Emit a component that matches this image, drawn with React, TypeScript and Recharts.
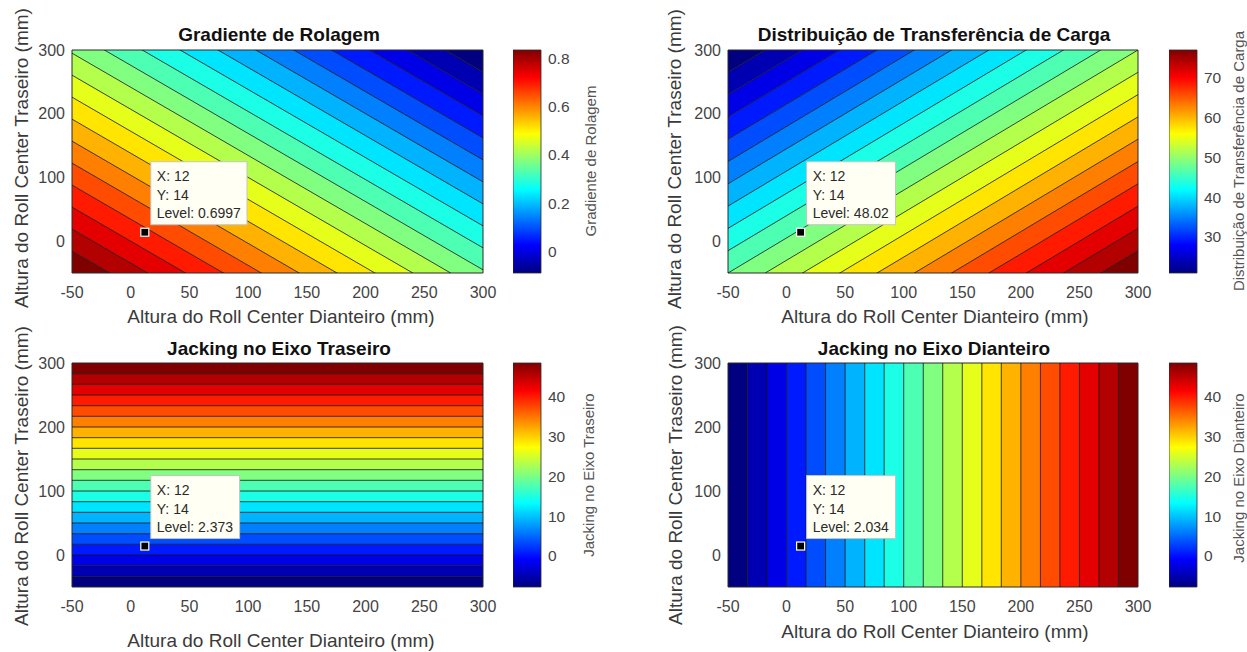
import {
  ComposedChart,
  Area,
  Line,
  XAxis,
  YAxis,
  ReferenceArea,
  ReferenceLine,
  ReferenceDot,
} from 'recharts'

const FONT = '"Liberation Sans", Arial, Helvetica, sans-serif'

// eixos comuns (mm)
const xTicks = [-50, 0, 50, 100, 150, 200, 250, 300]
const yTicks = [0, 100, 200, 300]

// Gradiente de Rolagem: fronteiras das faixas, y em x=-50 e y em x=300
const rolagemYEsq = [-50, -15.5, 19, 53.5, 88, 122.5, 157, 191.5, 226, 260.5, 295, 329.5, 364, 398.5, 433, 467.5, 502, 536.5, 571, 605.5, 640, 674.5]
const rolagemYDir = [-424.5, -390, -355.5, -321, -286.5, -252, -217.5, -183, -148.5, -114, -79.5, -45, -10.5, 24, 58.5, 93, 127.5, 162, 196.5, 231, 265.5, 300]

// Distribuição de Transferência de Carga: fronteiras, y em x=-50 e y em x=300
const cargaYEsq = [300, 265, 230, 195, 160, 125, 90, 55, 20, -15, -50, -85, -120, -155, -190, -225, -260, -295, -330, -365, -400, -435]
const cargaYDir = [685, 650, 615, 580, 545, 510, 475, 440, 405, 370, 335, 300, 265, 230, 195, 160, 125, 90, 55, 20, -15, -50]

// Jacking no eixo traseiro: curvas de nível horizontais (y)
const jackTrasY = [-33.3, -16.7, 0, 16.7, 33.3, 50, 66.7, 83.3, 100, 116.7, 133.3, 150, 166.7, 183.3, 200, 216.7, 233.3, 250, 266.7, 283.3]
// Jacking no eixo dianteiro: curvas de nível verticais (x)
const jackDiantX = [-33.3, -16.7, 0, 16.7, 33.3, 50, 66.7, 83.3, 100, 116.7, 133.3, 150, 166.7, 183.3, 200, 216.7, 233.3, 250, 266.7, 283.3]

// barras de cores
const rolagemCbRange = [-0.087, 0.833]
const rolagemCbTicks = [0, 0.2, 0.4, 0.6, 0.8]
const cargaCbRange = [20.9, 77.0]
const cargaCbTicks = [30, 40, 50, 60, 70]
const jackCbRange = [-7.8, 48.5]
const jackCbTicks = [0, 10, 20, 30, 40]

// data tips
const tipRolagem = { x: 12, y: 14, level: '0.6997' }
const tipCarga = { x: 12, y: 14, level: '48.02' }
const tipJackTras = { x: 12, y: 14, level: '2.373' }
const tipJackDiant = { x: 12, y: 14, level: '2.034' }

const N_FAIXAS = 20

// colormap jet do MATLAB
const jet = (t: number) => {
  const c = (v: number) => Math.round(255 * Math.max(0, Math.min(1, v)))
  return `rgb(${c(1.5 - Math.abs(4 * t - 3))},${c(1.5 - Math.abs(4 * t - 2))},${c(1.5 - Math.abs(4 * t - 1))})`
}

function montaLinhas(esq: number[], dir: number[]) {
  const row = (x: number, ys: number[]) => {
    const r: Record<string, any> = { x }
    ys.forEach((y, i) => {
      r[`l${i}`] = y
      if (i < ys.length - 1) r[`b${i}`] = [y, ys[i + 1]]
    })
    return r
  }
  return [row(-50, esq), row(300, dir)]
}

const tickStyle = { fontSize: 16, fill: '#444', fontFamily: FONT }

function tipShape(tip: { x: number; y: number; level: string }) {
  return (p: any) => {
    const { cx, cy } = p
    const txt = `Level: ${tip.level}`
    const w = 7.4 * txt.length
    const ts = { fontSize: 14, fill: '#2a2a2a', fontFamily: FONT }
    return (
      <g>
        <rect x={cx + 6} y={cy - 70.5} width={w} height={63} fill="#fffff4" stroke="#c4c4c4" />
        <text x={cx + 12} y={cy - 51} {...ts}>X: {tip.x}</text>
        <text x={cx + 12} y={cy - 32.5} {...ts}>Y: {tip.y}</text>
        <text x={cx + 12} y={cy - 14} {...ts}>{txt}</text>
        <rect x={cx - 4} y={cy - 4} width={8} height={8} fill="#000" stroke="#fff" strokeWidth={1.2} />
      </g>
    )
  }
}

interface Caixa {
  L: number
  T: number
  R: number
  B: number
}

const PADL = 60
const PADT = 10
const PADR = 30

function Painel({ box, children }: { box: Caixa; children: any }) {
  return (
    <div style={{ position: 'absolute', left: box.L - PADL, top: box.T - PADT }}>
      {children(box.R - box.L + PADL + PADR, box.B - box.T + PADT + 40)}
    </div>
  )
}

const eixos = [
  <XAxis
    key="x"
    type="number"
    dataKey="x"
    domain={[-50, 300]}
    ticks={xTicks}
    interval={0}
    allowDataOverflow
    tickLine={false}
    axisLine={false}
    tickSize={0}
    tickMargin={14}
    height={30}
    tick={tickStyle}
  />,
  <YAxis
    key="y"
    type="number"
    domain={[-50, 300]}
    ticks={yTicks}
    interval={0}
    allowDataOverflow
    tickLine={false}
    axisLine={false}
    tickSize={0}
    tickMargin={7}
    width={40}
    tick={tickStyle}
  />,
]

const margem = { top: PADT, right: PADR, left: PADL - 40, bottom: 10 }

function Moldura() {
  return (
    <ReferenceArea x1={-50} x2={300} y1={-50} y2={300} fill="none" stroke="#2b2b2b" strokeWidth={1} ifOverflow="visible" />
  )
}

function Diagonal({ box, esq, dir, invert, tip }: { box: Caixa; esq: number[]; dir: number[]; invert: boolean; tip: any }) {
  const data = montaLinhas(esq, dir)
  const faixas = esq.slice(0, -1).map((_, k) => k)
  const linhas = esq.map((_, k) => k).filter((k) => k > 0 && k < esq.length - 1)
  return (
    <Painel box={box}>
      {(w: number, h: number) => (
        <ComposedChart width={w} height={h} data={data} margin={margem}>
          {eixos}
          {faixas.map((k) => (
            <Area
              key={`b${k}`}
              dataKey={`b${k}`}
              type="linear"
              stroke="none"
              fill={jet((invert ? N_FAIXAS - k : k) / N_FAIXAS)}
              fillOpacity={1}
              dot={false}
              activeDot={false}
              isAnimationActive={false}
            />
          ))}
          {linhas.map((k) => (
            <Line
              key={`l${k}`}
              dataKey={`l${k}`}
              type="linear"
              stroke="#111"
              strokeWidth={0.8}
              dot={false}
              activeDot={false}
              isAnimationActive={false}
            />
          ))}
          <Moldura />
          <ReferenceDot x={tip.x} y={tip.y} r={4} shape={tipShape(tip)} ifOverflow="visible" />
        </ComposedChart>
      )}
    </Painel>
  )
}

function Retas({ box, linhas, vertical, tip }: { box: Caixa; linhas: number[]; vertical: boolean; tip: any }) {
  const lim = [-50, ...linhas, 300]
  const data = [{ x: -50 }, { x: 300 }]
  return (
    <Painel box={box}>
      {(w: number, h: number) => (
        <ComposedChart width={w} height={h} data={data} margin={margem}>
          {eixos}
          {lim.slice(0, -1).map((v, k) =>
            vertical ? (
              <ReferenceArea key={`a${k}`} x1={v} x2={lim[k + 1]} y1={-50} y2={300} fill={jet(k / N_FAIXAS)} fillOpacity={1} stroke="none" />
            ) : (
              <ReferenceArea key={`a${k}`} x1={-50} x2={300} y1={v} y2={lim[k + 1]} fill={jet(k / N_FAIXAS)} fillOpacity={1} stroke="none" />
            )
          )}
          {linhas.map((v, k) =>
            vertical ? (
              <ReferenceLine key={`r${k}`} x={v} stroke="#111" strokeWidth={0.8} />
            ) : (
              <ReferenceLine key={`r${k}`} y={v} stroke="#111" strokeWidth={0.8} />
            )
          )}
          <Moldura />
          <ReferenceDot x={tip.x} y={tip.y} r={4} shape={tipShape(tip)} ifOverflow="visible" />
        </ComposedChart>
      )}
    </Painel>
  )
}

function ColorBar({ id, L, R, T, B, range, ticks }: { id: string; L: number; R: number; T: number; B: number; range: number[]; ticks: number[] }) {
  const stops = [0, 0.125, 0.25, 0.375, 0.5, 0.625, 0.75, 0.875, 1]
  return (
    <div style={{ position: 'absolute', left: L, top: T - 10 }}>
      <ComposedChart width={R - L + 50} height={B - T + 20} data={[{ x: 0 }, { x: 1 }]} margin={{ top: 10, bottom: 10, left: 0, right: 0 }}>
        <defs>
          <linearGradient id={id} x1="0" y1="0" x2="0" y2="1">
            {stops.map((s) => (
              <stop key={s} offset={`${s * 100}%`} stopColor={jet(1 - s)} />
            ))}
          </linearGradient>
        </defs>
        <XAxis type="number" dataKey="x" domain={[0, 1]} hide />
        <YAxis
          orientation="right"
          type="number"
          domain={range}
          ticks={ticks}
          interval={0}
          allowDataOverflow
          tickLine={false}
          axisLine={false}
          tickSize={0}
          tickMargin={7}
          width={50}
          tick={{ ...tickStyle, fontSize: 15.5 }}
        />
        <ReferenceArea x1={0} x2={1} y1={range[0]} y2={range[1]} fill={`url(#${id})`} fillOpacity={1} stroke="#2b2b2b" strokeWidth={0.8} />
      </ComposedChart>
    </div>
  )
}

const XLABEL = 'Altura do Roll Center Dianteiro (mm)'
const YLABEL = 'Altura do Roll Center Traseiro (mm)'

function Textos() {
  const tit = { fontSize: 19, fontWeight: 700, fill: '#111', fontFamily: FONT, textAnchor: 'middle' as const, dominantBaseline: 'central' as const }
  const lab = { fontSize: 19, fill: '#3a3a3a', fontFamily: FONT, textAnchor: 'middle' as const, dominantBaseline: 'central' as const }
  const cbl = { fontSize: 15, fill: '#555', fontFamily: FONT, textAnchor: 'middle' as const, dominantBaseline: 'central' as const }
  return (
    <svg width={1247} height={652} style={{ position: 'absolute', left: 0, top: 0, pointerEvents: 'none' }}>
      <text x={279} y={34} {...tit}>Gradiente de Rolagem</text>
      <text x={934} y={34} {...tit}>Distribuição de Transferência de Carga</text>
      <text x={279} y={348} {...tit}>Jacking no Eixo Traseiro</text>
      <text x={934} y={348} {...tit}>Jacking no Eixo Dianteiro</text>

      <text x={281} y={316} {...lab}>{XLABEL}</text>
      <text x={935} y={316} {...lab}>{XLABEL}</text>
      <text x={281} y={640} {...lab}>{XLABEL}</text>
      <text x={935} y={631} {...lab}>{XLABEL}</text>

      <text x={21} y={158} transform="rotate(-90 21 158)" {...lab}>{YLABEL}</text>
      <text x={674} y={159} transform="rotate(-90 674 159)" {...lab}>{YLABEL}</text>
      <text x={21} y={476} transform="rotate(-90 21 476)" {...lab}>{YLABEL}</text>
      <text x={675} y={475} transform="rotate(-90 675 475)" {...lab}>{YLABEL}</text>

      <text x={590} y={161} transform="rotate(-90 590 161)" {...cbl}>Gradiente de Rolagem</text>
      <text x={1238} y={161} transform="rotate(-90 1238 161)" {...cbl}>Distribuição de Transferência de Carga</text>
      <text x={588} y={475} transform="rotate(-90 588 475)" {...cbl}>Jacking no Eixo Traseiro</text>
      <text x={1238} y={478} transform="rotate(-90 1238 478)" {...cbl}>Jacking no Eixo Dianteiro</text>
    </svg>
  )
}

export default function App() {
  return (
    <div style={{ position: 'absolute', left: 0, top: 0, width: 1247, height: 652, background: '#fff', fontFamily: FONT }}>
      <Diagonal box={{ L: 72, T: 50, R: 483, B: 273 }} esq={rolagemYEsq} dir={rolagemYDir} invert tip={tipRolagem} />
      <Diagonal box={{ L: 728, T: 50, R: 1138, B: 273 }} esq={cargaYEsq} dir={cargaYDir} invert={false} tip={tipCarga} />
      <Retas box={{ L: 72, T: 363, R: 483, B: 587 }} linhas={jackTrasY} vertical={false} tip={tipJackTras} />
      <Retas box={{ L: 728, T: 363, R: 1138, B: 587 }} linhas={jackDiantX} vertical tip={tipJackDiant} />

      <ColorBar id="cb1" L={513} R={541} T={50} B={273} range={rolagemCbRange} ticks={rolagemCbTicks} />
      <ColorBar id="cb2" L={1169} R={1197} T={50} B={273} range={cargaCbRange} ticks={cargaCbTicks} />
      <ColorBar id="cb3" L={513} R={541} T={363} B={587} range={jackCbRange} ticks={jackCbTicks} />
      <ColorBar id="cb4" L={1169} R={1197} T={363} B={587} range={jackCbRange} ticks={jackCbTicks} />

      <Textos />
    </div>
  )
}
